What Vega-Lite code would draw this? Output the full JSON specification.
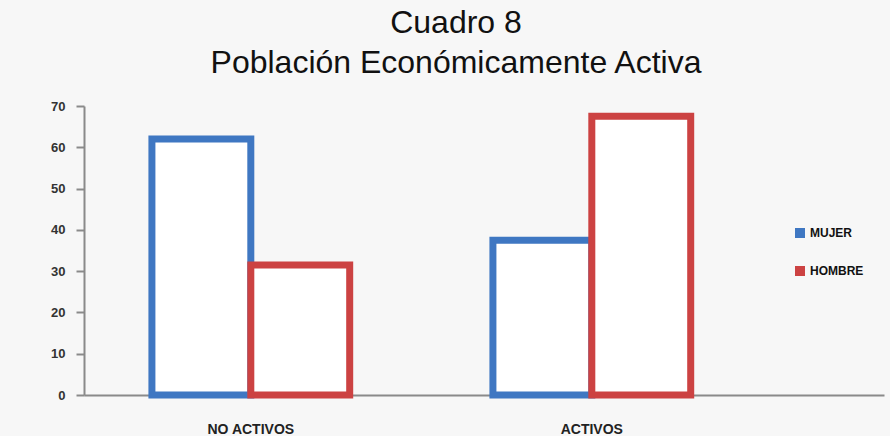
{
  "$schema": "https://vega.github.io/schema/vega-lite/v6.json",
  "autosize": "none",
  "width": 800,
  "height": 289,
  "padding": {"left": 84, "top": 106, "right": 6, "bottom": 41},
  "background": "#f7f7f7",
  "title": {
    "text": ["Cuadro 8", "Población Económicamente Activa"],
    "anchor": "middle",
    "fontSize": 32,
    "lineHeight": 40,
    "font": "Liberation Sans",
    "fontWeight": "normal",
    "color": "#111111",
    "dx": -28,
    "offset": 20
  },
  "data": {
    "values": [
      {"categoria": "NO ACTIVOS", "sexo": "MUJER", "valor": 62},
      {"categoria": "NO ACTIVOS", "sexo": "HOMBRE", "valor": 31.5},
      {"categoria": "ACTIVOS", "sexo": "MUJER", "valor": 37.5},
      {"categoria": "ACTIVOS", "sexo": "HOMBRE", "valor": 67.5}
    ]
  },
  "mark": {"type": "bar", "fill": "white", "strokeWidth": 7, "fillOpacity": 1},
  "encoding": {
    "x": {
      "field": "categoria",
      "type": "nominal",
      "sort": ["NO ACTIVOS", "ACTIVOS"],
      "scale": {"paddingInner": 0.42, "paddingOuter": 0.383, "align": 0.26},
      "axis": {
        "title": null,
        "labelAngle": 0,
        "ticks": false,
        "labelPadding": 27,
        "labelFont": "Liberation Sans",
        "labelFontWeight": "bold",
        "labelFontSize": 14,
        "labelColor": "#222222",
        "domainColor": "#8a8a8a",
        "domainWidth": 2
      }
    },
    "xOffset": {"field": "sexo", "type": "nominal", "sort": ["MUJER", "HOMBRE"], "scale": {"paddingInner": 0, "paddingOuter": 0}},
    "y": {
      "field": "valor",
      "type": "quantitative",
      "scale": {"domain": [0, 70], "nice": false},
      "axis": {
        "title": null,
        "values": [0, 10, 20, 30, 40, 50, 60, 70],
        "grid": false,
        "tickSize": 8,
        "tickWidth": 2,
        "tickColor": "#8a8a8a",
        "domainColor": "#8a8a8a",
        "domainWidth": 2,
        "labelPadding": 11,
        "labelFont": "Liberation Sans",
        "labelFontWeight": "bold",
        "labelFontSize": 13,
        "labelColor": "#333333"
      }
    },
    "stroke": {
      "field": "sexo",
      "type": "nominal",
      "sort": ["MUJER", "HOMBRE"],
      "scale": {"domain": ["MUJER", "HOMBRE"], "range": ["#3f77c2", "#cc4242"]},
      "legend": {
        "title": null,
        "orient": "none",
        "legendX": 710,
        "legendY": 121,
        "symbolType": "square",
        "symbolSize": 25,
        "symbolStrokeWidth": 5,
        "rowPadding": 12,
        "labelFont": "Liberation Sans",
        "labelFontWeight": "bold",
        "labelFontSize": 12,
        "labelColor": "#111111",
        "labelOffset": 4
      }
    },
    "order": {"field": "sexo", "sort": "descending"}
  },
  "config": {"view": {"stroke": null}}
}
